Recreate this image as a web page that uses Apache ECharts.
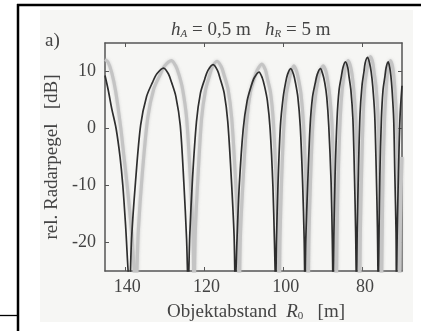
<!DOCTYPE html>
<html><head><meta charset="utf-8">
<script src="https://cdn.jsdelivr.net/npm/echarts@6/dist/echarts.min.js"></script>
<style>html,body{margin:0;padding:0;background:#fff}#c{width:421px;height:331px}</style>
</head><body><div id="c"></div>
<script>
const xTicks = [80, 100, 120, 140];
const yTicks = [-20, -10, 0, 10];

// dark curve: range R [m] and level [dB]
const darkR = [145,144.2,143.3,142.2,141.2,140.5,139.8,138.8,
 138.3,137.3,136.0,134.5,133.0,131.9,130.2,129.0,128.2,127.1,126.0,125.1,124.4,124.0,
 123.6,122.9,121.9,120.9,119.8,119.0,117.7,116.6,115.9,114.9,114.0,113.1,112.4,112.1,
 111.7,111.1,110.1,109.1,108.1,107.3,106.1,105.3,104.7,104.0,103.3,102.6,102.2,101.9,
 101.7,101.3,100.7,100.0,99.4,98.9,98.1,97.4,96.9,96.3,95.7,95.1,94.7,94.5,
 94.3,93.8,93.2,92.6,91.9,91.4,90.6,90.0,89.5,89.0,88.5,87.9,87.6,87.4,
 87.2,86.9,86.4,85.9,85.3,84.9,84.3,83.7,83.4,82.9,82.4,82.0,81.7,81.5,
 81.3,81.0,80.6,80.1,79.6,79.3,78.7,78.2,77.8,77.4,76.9,76.5,76.2,76.0,
 75.8,75.6,75.2,74.8,74.3,74.0,73.5,73.1,72.8,72.5,72.1,71.8,71.5,71.4,
 71.2,70.9,70.5,70.0];
const darkDB = [9.3,6.8,3.5,0,-5,-10,-17,-28,
 -19.4,-9.4,0.6,5.6,8.1,9.6,10.6,9.6,8.1,5.6,0.6,-9.4,-19.4,-28,
 -18.8,-8.8,1.2,6.2,8.7,10.2,11.2,10.2,8.7,6.2,1.2,-8.8,-18.8,-28,
 -20.1,-10.1,-0.1,4.9,7.4,8.9,9.9,8.9,7.4,4.9,-0.1,-10.1,-20.1,-28,
 -19.5,-9.5,0.5,5.5,8.0,9.5,10.5,9.5,8.0,5.5,0.5,-9.5,-19.5,-28,
 -19.5,-9.5,0.5,5.5,8.0,9.5,10.5,9.5,8.0,5.5,0.5,-9.5,-19.5,-28,
 -18.3,-8.3,1.7,6.7,9.2,10.7,11.7,10.7,9.2,6.7,1.7,-8.3,-18.3,-28,
 -17.5,-7.5,2.5,7.5,10.0,11.5,12.5,11.5,10.0,7.5,2.5,-7.5,-17.5,-28,
 -18.3,-8.3,1.7,6.7,9.2,10.7,11.7,10.7,9.2,6.7,1.7,-8.3,-18.3,-28,
 -18,-8,2,7.5];

// light grey curve
const grayR = [145,144.2,143.3,142.3,141.0,140.2,139.4,138.3,137.2,
 136.6,135.6,134.2,132.7,131.1,130.0,128.2,127.1,126.3,125.4,124.4,123.5,122.8,122.5,
 122.2,121.5,120.6,119.6,118.6,117.9,116.7,115.6,114.9,113.9,113.0,112.1,111.4,111.1,
 110.8,110.1,109.2,108.3,107.3,106.5,105.4,104.5,104.0,103.2,102.5,101.8,101.3,101.0,
 100.8,100.4,99.8,99.2,98.5,98.0,97.3,96.6,96.1,95.5,94.9,94.3,93.9,93.7,
 93.5,93.1,92.5,91.8,91.2,90.7,89.9,89.2,88.8,88.3,87.7,87.2,86.8,86.6,
 86.4,86.1,85.6,85.1,84.6,84.2,83.6,83.0,82.6,82.2,81.7,81.2,80.9,80.7,
 80.5,80.2,79.8,79.4,78.9,78.5,78.0,77.4,77.1,76.6,76.1,75.7,75.4,75.2,
 75.0,74.8,74.4,74.0,73.7,73.4,72.9,72.4,72.1,71.8,71.4,71.0,70.7,70.6,
 70.4,70.0];
const grayDB = [12.1,11.6,9.8,6.5,0,-5,-10,-18,-28,
 -18.1,-8.1,1.9,6.9,9.4,10.9,11.9,10.9,9.4,6.9,1.9,-8.1,-18.1,-28,
 -18.2,-8.2,1.8,6.8,9.3,10.8,11.8,10.8,9.3,6.8,1.8,-8.2,-18.2,-28,
 -18.7,-8.7,1.3,6.3,8.8,10.3,11.3,10.3,8.8,6.3,1.3,-8.7,-18.7,-28,
 -19,-9,1,6,8.5,10,11.0,10,8.5,6,1,-9,-19,-28,
 -19,-9,1,6,8.5,10,11.0,10,8.5,6,1,-9,-19,-28,
 -18.1,-8.1,1.9,6.9,9.4,10.9,11.9,10.9,9.4,6.9,1.9,-8.1,-18.1,-28,
 -17.4,-7.4,2.6,7.6,10.1,11.6,12.6,11.6,10.1,7.6,2.6,-7.4,-17.4,-28,
 -18.1,-8.1,1.9,6.9,9.4,10.9,11.9,10.9,9.4,6.9,1.9,-8.1,-18.1,-28,
 -16,-5];

const FONT = '"Liberation Serif", "DejaVu Serif", serif';
const TXT = '#444';
const chart = echarts.init(document.getElementById('c'), null, {renderer: 'canvas'});

const frameLine = {show: true, onZero: false, lineStyle: {color: '#555', width: 1.5}};
const tickIn = (vals) => ({show: true, inside: true, length: 4, customValues: vals, lineStyle: {color: '#555', width: 1}});

const richBase = {
  n: {fontFamily: FONT, fontSize: 19, fontWeight: 'normal', color: TXT, lineHeight: 20},
  i: {fontFamily: FONT, fontSize: 19, fontWeight: 'normal', fontStyle: 'italic', color: TXT, lineHeight: 20},
  s: {fontFamily: FONT, fontSize: 11, fontWeight: 'normal', fontStyle: 'italic', color: TXT, lineHeight: 11, verticalAlign: 'bottom'},
  s0: {fontFamily: FONT, fontSize: 11, fontWeight: 'normal', color: TXT, lineHeight: 11, verticalAlign: 'bottom'}
};

chart.setOption({
  animation: false,
  backgroundColor: '#ffffff',
  title: {
    text: '{i|h}{s|A}{n| = 0,5 m   }{i|h}{s|R}{n| = 5 m}',
    left: 166, top: 15,
    textStyle: {fontWeight: 'normal', rich: richBase}
  },
  grid: {left: 105, right: 19, top: 43, height: 228, containLabel: false},
  xAxis: [{
    type: 'value', inverse: true, min: 70, max: 145, position: 'bottom',
    axisLine: frameLine, axisTick: tickIn(xTicks), splitLine: {show: false},
    axisLabel: {customValues: xTicks, margin: 7, padding: [0, 0, 0, 5], fontFamily: FONT, fontSize: 18, color: TXT},
    name: '{n|Objektabstand  }{i|R}{s0|0}{n|   [m]}',
    nameLocation: 'middle', nameGap: 31,
    nameTextStyle: {rich: richBase, padding: [0, 0, 0, 5]}
  }, {
    type: 'value', inverse: true, min: 70, max: 145, position: 'top',
    axisLine: frameLine, axisTick: tickIn(xTicks), axisLabel: {show: false}, splitLine: {show: false}
  }],
  yAxis: [{
    type: 'value', min: -25, max: 15, position: 'left',
    axisLine: frameLine, axisTick: tickIn(yTicks), splitLine: {show: false},
    axisLabel: {customValues: yTicks, margin: 9, fontFamily: FONT, fontSize: 18, color: TXT},
    name: 'rel. Radarpegel   [dB]', nameLocation: 'middle', nameGap: 39, nameRotate: 90,
    nameTextStyle: {fontFamily: FONT, fontSize: 19, color: TXT}
  }, {
    type: 'value', min: -25, max: 15, position: 'right',
    axisLine: frameLine, axisTick: tickIn(yTicks), axisLabel: {show: false}, splitLine: {show: false}
  }],
  graphic: [
    {type: 'rect', z: -100, shape: {x: 40, y: 10, width: 373, height: 312}, style: {fill: '#f6f6f4'}, silent: true},
    {type: 'line', shape: {x1: 17, y1: 5, x2: 421, y2: 5}, style: {stroke: '#000', lineWidth: 2.5}},
    {type: 'line', shape: {x1: 18, y1: 4, x2: 18, y2: 331}, style: {stroke: '#000', lineWidth: 2.5}},
    {type: 'line', shape: {x1: 0, y1: 315.5, x2: 18, y2: 315.5}, style: {stroke: '#000', lineWidth: 1.3}},
    {type: 'text', left: 45, top: 32, style: {text: 'a)', font: '19px ' + FONT, fill: TXT}}
  ],
  series: [{
    type: 'line', name: 'grau', data: grayR.map((r, i) => [r, grayDB[i]]),
    showSymbol: false, smooth: 0.3, clip: true,
    lineStyle: {color: '#c4c4c4', width: 3.2, shadowColor: 'rgba(180,180,180,0.6)', shadowBlur: 3},
    z: 2
  }, {
    type: 'line', name: 'dunkel', data: darkR.map((r, i) => [r, darkDB[i]]),
    showSymbol: false, smooth: 0.3, clip: true,
    lineStyle: {color: '#2e2e2e', width: 1.7},
    z: 3
  }]
});
</script>
</body></html>
